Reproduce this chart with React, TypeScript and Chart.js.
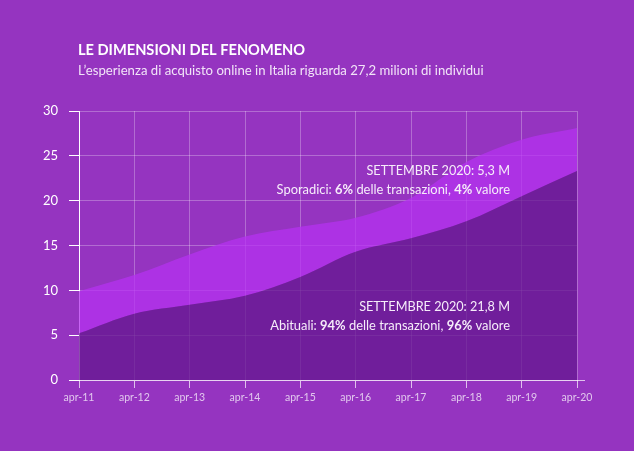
import React, { useEffect, useRef } from "react";
import { Chart, registerables } from "chart.js";

Chart.register(...registerables);

const categories = ["apr-11", "apr-12", "apr-13", "apr-14", "apr-15", "apr-16", "apr-17", "apr-18", "apr-19", "apr-20"];
const abituali = [5.2, 7.4, 8.4, 9.4, 11.5, 14.3, 15.8, 17.7, 20.5, 23.3];
const totale = [9.9, 11.7, 14.0, 16.0, 17.1, 18.1, 20.3, 24.3, 26.8, 28.1];
const yTickValues = [0, 5, 10, 15, 20, 25, 30];

const titleText = "LE DIMENSIONI DEL FENOMENO";
const subtitleText = "L’esperienza di acquisto online in Italia riguarda 27,2 milioni di individui";
const noteSporadici: [string, boolean][][] = [
  [["SETTEMBRE 2020: 5,3 M", false]],
  [["Sporadici: ", false], ["6%", true], [" delle transazioni, ", false], ["4%", true], [" valore", false]],
];
const noteAbituali: [string, boolean][][] = [
  [["SETTEMBRE 2020: 21,8 M", false]],
  [["Abituali: ", false], ["94%", true], [" delle transazioni, ", false], ["96%", true], [" valore", false]],
];

const BG = "#9534c0";
const FONT = "Lato, 'Noto Sans', sans-serif";

function drawRich(ctx: CanvasRenderingContext2D, segs: [string, boolean][], rightX: number, y: number, size: number) {
  let total = 0;
  const widths = segs.map(([t, b]) => {
    ctx.font = `${b ? "bold " : ""}${size}px ${FONT}`;
    const w = ctx.measureText(t).width;
    total += w;
    return w;
  });
  let x = rightX - total;
  segs.forEach(([t, b], i) => {
    ctx.font = `${b ? "bold " : ""}${size}px ${FONT}`;
    ctx.fillText(t, x, y);
    x += widths[i];
  });
}

const textPlugin = {
  id: "textPlugin",
  beforeDraw(chart: any) {
    const ctx = chart.ctx as CanvasRenderingContext2D;
    ctx.save();
    ctx.fillStyle = BG;
    ctx.fillRect(0, 0, chart.width, chart.height);
    ctx.restore();
  },
  afterDraw(chart: any) {
    const ctx = chart.ctx as CanvasRenderingContext2D;
    const area = chart.chartArea;
    ctx.save();
    ctx.textBaseline = "alphabetic";
    ctx.textAlign = "left";
    ctx.fillStyle = "#ffffff";
    ctx.font = `bold 14.6px ${FONT}`;
    ctx.fillText(titleText, 78, 55);
    ctx.fillStyle = "#f2e4f8";
    ctx.font = `13.15px ${FONT}`;
    ctx.fillText(subtitleText, 78, 75);

    ctx.fillStyle = "#f6ecfa";
    drawRich(ctx, noteSporadici[0], 510, 175, 12.7);
    drawRich(ctx, noteSporadici[1], 510, 193.5, 12.9);
    drawRich(ctx, noteAbituali[0], 510, 311, 12.7);
    drawRich(ctx, noteAbituali[1], 510, 329.5, 12.9);

    // x axis line extension
    ctx.strokeStyle = "rgba(255,255,255,0.7)";
    ctx.lineWidth = 1;
    ctx.beginPath();
    ctx.moveTo(area.right, Math.round(area.bottom) + 0.5);
    ctx.lineTo(area.right + 8, Math.round(area.bottom) + 0.5);
    ctx.stroke();
    ctx.restore();
  },
};

export default function App() {
  const ref = useRef<HTMLCanvasElement | null>(null);

  useEffect(() => {
    document.body.style.margin = "0";
    const canvas = ref.current;
    if (!canvas) return;
    const chart = new Chart(canvas, {
      type: "line",
      data: {
        labels: categories,
        datasets: [
          {
            label: "Abituali",
            data: abituali,
            fill: "origin",
            backgroundColor: "rgba(100,23,143,0.75)",
            borderWidth: 0,
            pointRadius: 0,
            cubicInterpolationMode: "monotone",
          },
          {
            label: "Totale",
            data: totale,
            fill: "-1",
            backgroundColor: "rgba(181,49,240,0.75)",
            borderWidth: 0,
            pointRadius: 0,
            cubicInterpolationMode: "monotone",
          },
        ],
      },
      options: {
        responsive: false,
        animation: false,
        devicePixelRatio: 1,
        layout: { padding: { top: 111, right: 57, left: 0, bottom: 0 } },
        plugins: {
          legend: { display: false },
          tooltip: { enabled: false },
        },
        scales: {
          x: {
            type: "category",
            offset: false,
            afterFit: (s: any) => {
              s.height = 71;
            },
            grid: {
              color: "rgba(255,255,255,0.28)",
              tickColor: "rgba(255,255,255,0.7)",
              tickLength: 8,
              drawTicks: true,
            },
            border: { color: "rgba(255,255,255,0.7)" },
            ticks: {
              color: "rgba(255,255,255,0.72)",
              font: { family: FONT, size: 10.5 },
              padding: 3,
              maxRotation: 0,
              autoSkip: false,
            },
          },
          y: {
            min: 0,
            max: 30,
            afterFit: (s: any) => {
              s.width = 79;
            },
            afterBuildTicks: (s: any) => {
              s.ticks = yTickValues.map((v) => ({ value: v }));
            },
            grid: {
              color: "rgba(255,255,255,0.28)",
              tickColor: "#ffffff",
              tickLength: 10,
            },
            border: { color: "#ffffff" },
            ticks: {
              color: "#ffffff",
              font: { family: FONT, size: 13 },
              padding: 11,
            },
          },
        },
      },
      plugins: [textPlugin],
    });
    let alive = true;
    if ((document as any).fonts) {
      Promise.all([
        (document as any).fonts.load(`13px Lato`),
        (document as any).fonts.load(`bold 13px Lato`),
      ]).then(() => {
        if (alive) chart.update();
      }).catch(() => {});
    }
    return () => {
      alive = false;
      chart.destroy();
    };
  }, []);

  return (
    <div style={{ position: "absolute", left: 0, top: 0, width: 634, height: 451, background: BG }}>
      <canvas ref={ref} width={634} height={451} style={{ display: "block", width: 634, height: 451 }} />
    </div>
  );
}
